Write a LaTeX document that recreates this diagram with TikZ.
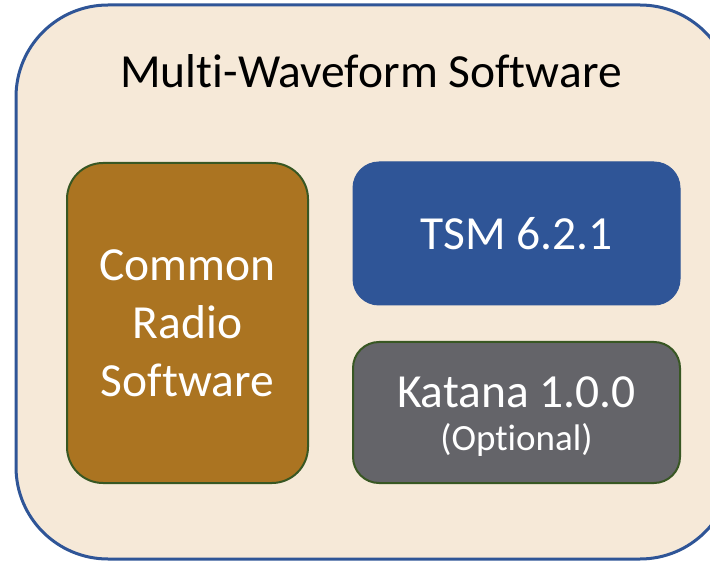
\documentclass[tikz,border=0pt]{standalone}
\usepackage{fontspec}
\setmainfont{Carlito}[Ligatures={NoCommon}]
\definecolor{outerfill}{HTML}{F6E9D8}
\definecolor{outerline}{HTML}{2F5597}
\definecolor{crsfill}{HTML}{AB7421}
\definecolor{greenline}{HTML}{385723}
\definecolor{tsmfill}{HTML}{2F5597}
\definecolor{katfill}{HTML}{646469}
\tikzset{
  outerbox/.style={draw=outerline, fill=outerfill, line width=3pt, rounded corners=92pt},
  crsbox/.style={draw=greenline, fill=crsfill, line width=2pt, rounded corners=36pt, inner sep=0pt},
  tsmbox/.style={draw=tsmfill, fill=tsmfill, line width=1pt, rounded corners=26pt, inner sep=0pt},
  katbox/.style={draw=greenline, fill=katfill, line width=2pt, rounded corners=26pt, inner sep=0pt},
  bigtxt/.style={font=\fontsize{47.5}{58}\selectfont, text=white, align=center, inner sep=0pt},
}
\begin{document}
\begin{tikzpicture}[x=1pt,y=-1pt]
\useasboundingbox (0,0) rectangle (710,561);
\clip (0,0) rectangle (710,561);
\fill[white] (0,0) rectangle (710,561);
\draw[outerbox] (16,5) rectangle (732,559);
\node[anchor=base, inner sep=0pt, font=\fontsize{47.5}{58}\selectfont] (title) at (371,88) {Multi-Waveform Software};
\node[crsbox, minimum width=241pt, minimum height=320pt] (crs) at (187.5,323) {};
\node[bigtxt] (crstxt) at (187.5,323) {Common\\Radio\\Software};
\node[tsmbox, minimum width=327pt, minimum height=143pt] (tsm) at (516.5,233.5) {};
\node[bigtxt] (tsmtxt) at (516.5,234) {TSM 6.2.1};
\node[katbox, minimum width=327pt, minimum height=141pt] (kat) at (516.5,412.5) {};
\node[text=white, align=center, inner sep=0pt, font=\fontsize{47.5}{43}\selectfont] (kattxt) at (516.5,417) {Katana 1.0.0\\\fontsize{37}{43}\selectfont (Optional)};
\end{tikzpicture}
\end{document}
